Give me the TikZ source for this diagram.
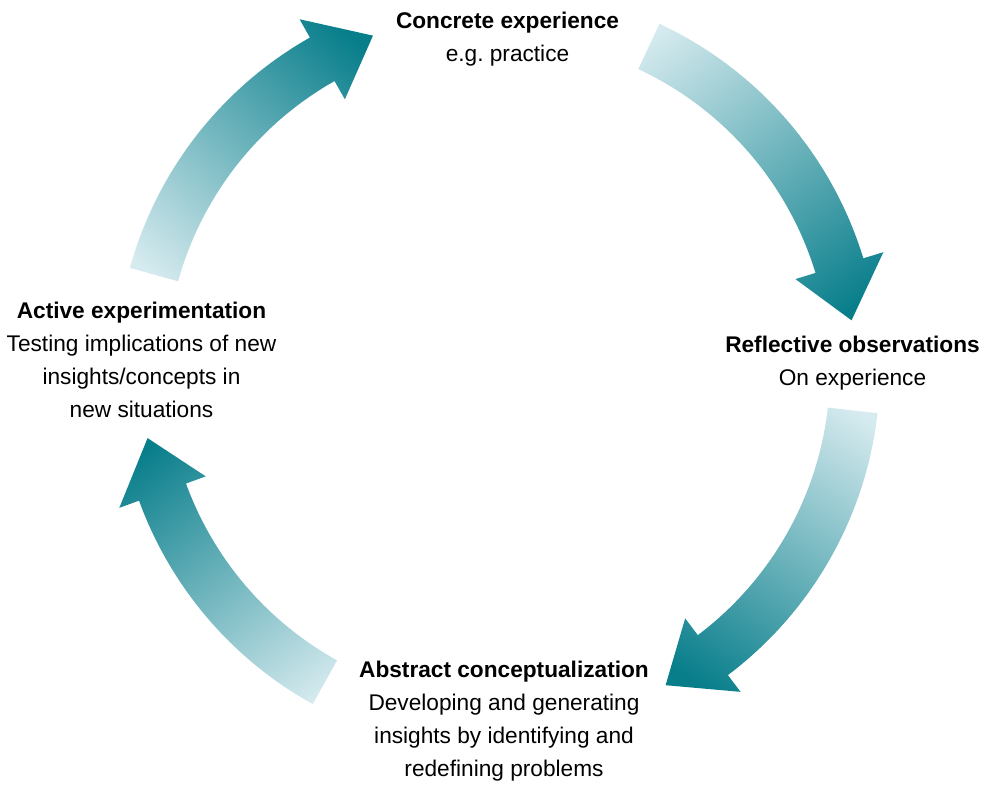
\documentclass[tikz,border=0pt]{standalone}
\usepackage{xcolor}
\usepackage{fontspec}
\setmainfont{Liberation Sans}
\usepackage{tikz}
\usetikzlibrary{calc, shadings}

\definecolor{cycdark}{HTML}{087E8B}
\definecolor{cyclight}{HTML}{D6EBEF}
\pgfdeclareverticalshading{cycfade}{100bp}{color(0bp)=(cyclight); color(18bp)=(cyclight); color(80bp)=(cycdark); color(100bp)=(cycdark)}

\tikzset{
	stagetext/.style={align=center, inner sep=0pt, anchor=north, font={\fontsize{17}{24.75}\selectfont}},
	cyclearrow/.style={shading=cycfade, draw=none}
}

\frenchspacing
\begin{document}
\begin{tikzpicture}[x=0.75pt, y=0.75pt]
			\useasboundingbox (0,0) rectangle (991,790);
			\coordinate (c) at (498,420);
			
			\foreach \s/\e/\a in {65/8/-142.7, -6.5/-62/146.4, 241/191/36.6, 164.5/110.5/-42.1}
			\shade[cyclearrow, shading angle=\a, shift={(c)}]
			(\s:382) arc[start angle=\s, end angle=\e+9, radius=382]
			-- (\e+9:403) -- (\e:357) -- (\e+9:311) -- (\e+9:332)
			arc[start angle=\e+9, end angle=\s, radius=332] -- cycle;
			
			\node[stagetext] (concrete) at (507.5,778.5) {\textbf{Concrete experience}\\e.g. practice};
			\node[stagetext] (reflective) at (852.5,454.5) {\textbf{Reflective observations}\\On experience};
			\node[stagetext] (abstract) at (504,129.5) {\textbf{Abstract conceptualization}\\Developing and generating\\insights by identifying and\\redefining problems};
			\node[stagetext] (active) at (141.5,488.5) {\textbf{Active experimentation}\\Testing implications of new\\insights/concepts in\\new situations};
\end{tikzpicture}
\end{document}
